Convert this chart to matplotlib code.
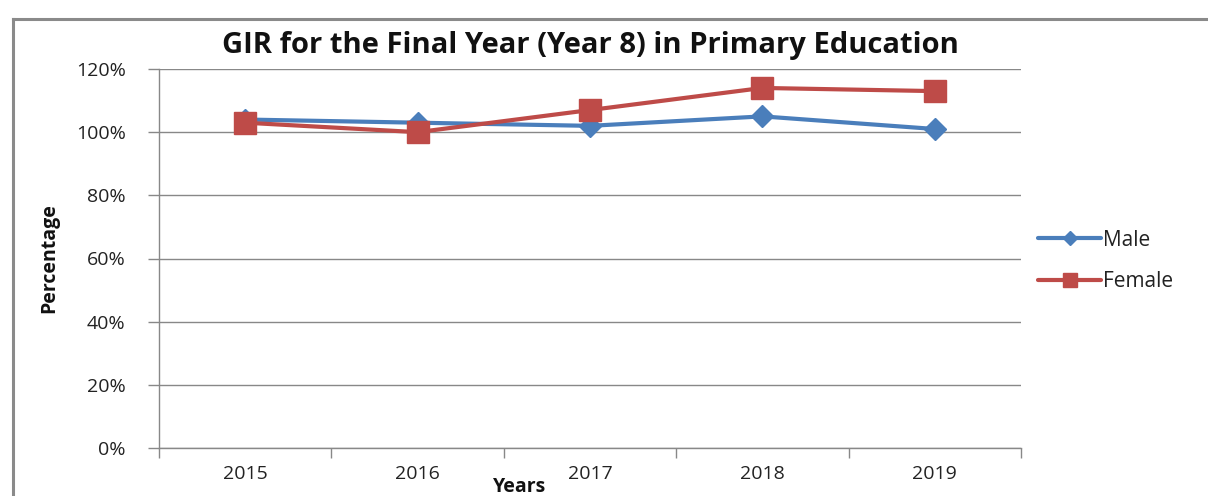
import numpy as np
import matplotlib
matplotlib.use("Agg")
import matplotlib.pyplot as plt
from matplotlib.lines import Line2D
from matplotlib.ticker import FuncFormatter, FixedLocator

plt.rcParams['font.family'] = ['Open Sans', 'DejaVu Sans']

years = ['2015', '2016', '2017', '2018', '2019']
male = [104, 103, 102, 105, 101]
female = [103, 100, 107, 114, 113]

W, H = 1208, 496
fig = plt.figure(figsize=(W / 100, H / 100), dpi=100)
fig.patch.set_facecolor('white')

# axes box in pixels: left 159, right 1021, top 69, bottom 448
left, right, top, bottom = 159, 1021, 69, 448
ax = fig.add_axes([left / W, 1 - bottom / H, (right - left) / W, (bottom - top) / H])

x = np.arange(len(years))
grid_c = '#888888'

ax.plot(x, male, color='#4A7EBB', lw=3, marker='D', ms=11,
        label='Male', solid_capstyle='round')
ax.plot(x, female, color='#BE4B48', lw=3, marker='s', ms=16,
        label='Female', solid_capstyle='round')

ax.set_xlim(-0.5, len(years) - 0.5)
ax.set_ylim(0, 120)
ax.set_yticks(np.arange(0, 121, 20))
ax.yaxis.set_major_formatter(FuncFormatter(lambda v, p: f'{v:.0f}%'))
ax.grid(axis='y', color=grid_c, lw=1)
ax.set_axisbelow(True)

# category boundaries carry the tick marks, labels sit in the middle
ax.xaxis.set_major_locator(FixedLocator(np.arange(-0.5, len(years), 1.0)))
ax.xaxis.set_minor_locator(FixedLocator(x))
ax.set_xticklabels([])
ax.set_xticklabels(years, minor=True)
ax.tick_params(axis='x', which='major', length=7, color=grid_c, width=1)
ax.tick_params(axis='x', which='minor', length=0, pad=12, labelsize=14,
               labelcolor='#222222')
ax.tick_params(axis='y', length=8, color=grid_c, width=1, pad=16,
               labelsize=14, labelcolor='#222222')

for s in ['top', 'right']:
    ax.spines[s].set_visible(False)
for s in ['left', 'bottom']:
    ax.spines[s].set_color(grid_c)
    ax.spines[s].set_linewidth(1)

fig.text(590 / W, 1 - 45 / H, 'GIR for the Final Year (Year 8) in Primary Education',
         ha='center', va='center', fontsize=21, fontweight='bold', color='#111111')
fig.text(520 / W, 1 - 487 / H, 'Years', ha='center', va='center',
         fontsize=14, fontweight='bold', color='#111111')
fig.text(49 / W, 1 - 258 / H, 'Percentage', ha='center', va='center',
         rotation=90, fontsize=14, fontweight='bold', color='#111111')

ax.legend(loc='center left', bbox_to_anchor=(1028 / W, 1 - 261 / H),
          bbox_transform=fig.transFigure, frameon=False, fontsize=15,
          handlelength=3.0, handletextpad=0.1, labelspacing=1.0,
          borderpad=0, markerscale=0.65, labelcolor='#222222')

# outer chart frame (top and left edges)
fig.add_artist(Line2D([13 / W, 13 / W], [0, 1 - 19 / H], transform=fig.transFigure,
                      color='#8a8a8a', lw=2.2))
fig.add_artist(Line2D([13 / W, 1], [1 - 19 / H, 1 - 19 / H], transform=fig.transFigure,
                      color='#8a8a8a', lw=2.2))

fig.savefig('out.png', dpi=100)
